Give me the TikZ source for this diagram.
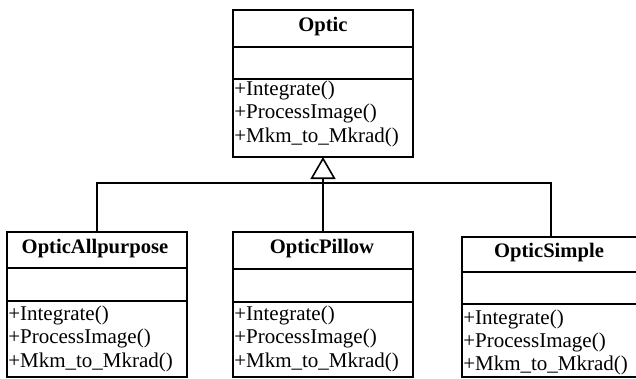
\documentclass[tikz,border=0pt]{standalone}
\usepackage{fontspec}
\setmainfont{Liberation Serif}
\usetikzlibrary{arrows.meta}
\begin{document}
\begin{tikzpicture}[x=1pt,y=-1pt, line width=1.6pt,
  compart/.style={draw, inner sep=0pt, outer sep=0pt, anchor=north west, minimum width=#1},
  compart/.default=180pt,
  classname/.style={font=\bfseries\fontsize{20.6}{24}\selectfont, anchor=base, inner sep=0pt},
  member/.style={font=\fontsize{21}{24}\selectfont, anchor=base west, inner sep=0pt},
  link/.style={line width=1.6pt},
  inherit/.style={-{Triangle[open, length=22pt, width=25pt, fill=white]}}]
\useasboundingbox (0,0) rectangle (636,378);
\fill[white] (0,0) rectangle (636,378);
\clip (0,0) rectangle (636,378);

% base class
\node[compart, minimum height=37pt] (optic-n) at (233,10) {};
\node[compart, minimum height=32pt] (optic-a) at (233,47) {};
\node[compart, minimum height=78pt] (optic-m) at (233,79) {};
\node[classname] (optic-title) at (323,31) {Optic};
\node[member] (optic-m1) at (233.5,95) {+Integrate()};
\node[member] (optic-m2) at (233.5,118.5) {+ProcessImage()};
\node[member] (optic-m3) at (233.5,142) {+Mkm\_to\_Mkrad()};

% OpticAllpurpose
\node[compart, minimum height=36pt] (ap-n) at (7,232) {};
\node[compart, minimum height=33pt] (ap-a) at (7,268) {};
\node[compart, minimum height=76pt] (ap-m) at (7,301) {};
\node[classname] (ap-title) at (95,253) {OpticAllpurpose};
\node[member] (ap-m1) at (7.5,320) {+Integrate()};
\node[member] (ap-m2) at (7.5,343.5) {+ProcessImage()};
\node[member] (ap-m3) at (7.5,367) {+Mkm\_to\_Mkrad()};

% OpticPillow
\node[compart, minimum height=37pt] (pl-n) at (233,232) {};
\node[compart, minimum height=33pt] (pl-a) at (233,269) {};
\node[compart, minimum height=75pt] (pl-m) at (233,302) {};
\node[classname] (pl-title) at (322,253) {OpticPillow};
\node[member] (pl-m1) at (233.5,320) {+Integrate()};
\node[member] (pl-m2) at (233.5,343.5) {+ProcessImage()};
\node[member] (pl-m3) at (233.5,367) {+Mkm\_to\_Mkrad()};

% OpticSimple
\node[compart=178pt, minimum height=35pt] (sm-n) at (462,237) {};
\node[compart=178pt, minimum height=32pt] (sm-a) at (462,272) {};
\node[compart=178pt, minimum height=73pt] (sm-m) at (462,304) {};
\node[classname] (sm-title) at (549,257) {OpticSimple};
\node[member] (sm-m1) at (462.5,324) {+Integrate()};
\node[member] (sm-m2) at (462.5,347) {+ProcessImage()};
\node[member] (sm-m3) at (462.5,370) {+Mkm\_to\_Mkrad()};

% generalisation tree
\coordinate (hub) at (323,183);
\draw[link] (ap-n.north) |- (hub) -| (sm-n.north);
\draw[link] (pl-n.north) -- (hub);
\draw[link, inherit] (hub) -- (optic-m.south);
\end{tikzpicture}
\end{document}
